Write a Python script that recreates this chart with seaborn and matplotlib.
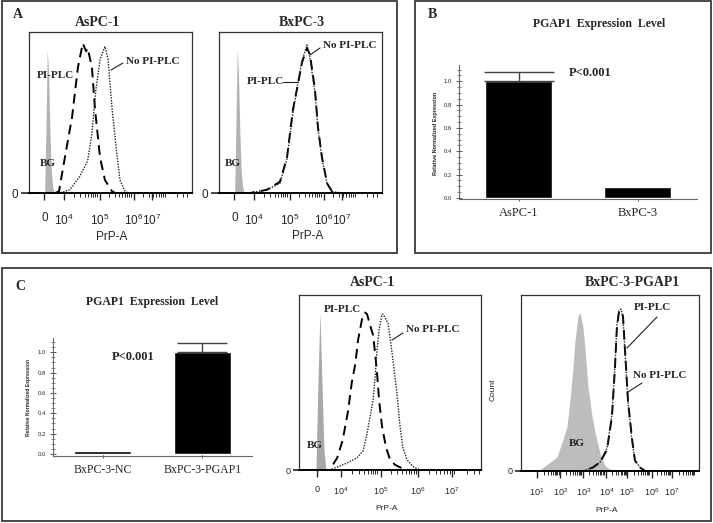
import numpy as np
import seaborn as sns
import matplotlib.pyplot as plt
from matplotlib.patches import Rectangle
from matplotlib.lines import Line2D

sns.set_style('white')
plt.rcParams['font.family'] = ['Liberation Sans', 'DejaVu Sans']
plt.rcParams['mathtext.fontset'] = 'custom'
plt.rcParams['mathtext.rm'] = 'Liberation Sans'
plt.rcParams['mathtext.it'] = 'Liberation Sans:italic'
plt.rcParams['mathtext.bf'] = 'Liberation Sans:bold'
SERIF = 'Liberation Serif'

W, H = 713, 523

# ---------------- data ----------------
# bar charts: relative normalized PGAP1 expression
b_groups = ['AsPC-1', 'BxPC-3']
b_expr = [1.0, 0.095]
b_err = [0.077, 0.0]

c_groups = ['BxPC-3-NC', 'BxPC-3-PGAP1']
c_expr = [0.028, 1.0]
c_err = [0.0, 0.088]

# flow histograms: x in relative channel units (0-100), y in % of axis height
# A, AsPC-1
a1_bg_x = [9.6, 10.4, 11.2, 12.0, 12.8, 13.6, 14.5, 15.5]
a1_bg_y = [0, 40, 89, 75, 40, 15, 4, 0]
a1_pi_x = [16, 18.4, 22, 26.4, 30, 33, 35, 36, 38.6, 40.5, 43.6, 46.6, 51, 53, 60]
a1_pi_y = [0, 1, 22, 47, 78, 93, 88, 90, 78, 52, 22, 8, 1, 0, 0]
a1_no_x = [16, 19, 25, 31, 36, 38.6, 41, 43.6, 46.6, 48.5, 51, 53.4, 55.8, 59, 60.7, 70]
a1_no_y = [0, 0, 2, 10, 20, 37, 64, 83, 91, 83, 52, 29, 8, 1, 0, 0]

# A, BxPC-3
a2_bg_x = [9.6, 10.4, 11.2, 12.0, 12.8, 13.6, 14.5, 15.5]
a2_bg_y = [0, 45, 90, 72, 38, 14, 4, 0]
a2_pi_x = [16, 19, 29.4, 37.4, 41.7, 45.4, 48.5, 50.9, 54, 55.8, 58.9, 60.7, 63.2, 66.3, 69.3, 74, 80]
a2_pi_y = [0, 0, 2, 7, 22, 52, 68, 81, 90, 86, 64, 41, 22, 6, 1, 0, 0]
a2_no_x = [16, 19, 29.4, 37.4, 41.7, 45.4, 48.5, 50.9, 54, 55.8, 58.9, 60.7, 63.2, 66.3, 69.3, 74, 80]
a2_no_y = [0, 0, 2, 6, 21, 50, 69, 82, 92, 84, 62, 40, 21, 6, 1, 0, 0]

# C, AsPC-1
c2_bg_x = [9.3, 10.4, 11.5, 12.6, 13.7, 14.8]
c2_bg_y = [0, 50, 90, 50, 12, 0]
c2_pi_x = [12, 17, 18, 21, 24, 27, 29, 31, 32.4, 34.6, 36.3, 37.4, 39, 40.7, 41.8, 42.9, 44, 45.6,
           47.8, 50, 52.7, 56.6, 60, 70]
c2_pi_y = [0, 0, 2, 7, 17, 34, 50, 61, 74, 86, 90, 89, 83, 77, 67, 55, 40, 25,
           13, 6, 3, 1, 0, 0]
c2_no_x = [12, 17, 26.4, 31.9, 35.2, 37.4, 39, 40.7, 41.8, 42.9, 44, 45.6, 46.2, 47.8, 48.9, 50,
           51.6, 53.8, 55.5, 57, 59.3, 62.6, 66.5, 75]
c2_no_y = [0, 0, 4, 7, 11, 21, 30, 40, 53, 69, 80, 89, 89, 86, 84, 76,
           63, 44, 25, 13, 6, 2, 0, 0]

# C, BxPC-3-PGAP1
c3_bg_x = [5, 9.6, 16.3, 20.2, 23.6, 25.8, 27.5, 29.2, 30.3, 32, 33.1, 34.8, 36, 37.6, 39.9,
           41.6, 44.4, 47.2, 50, 52.8]
c3_bg_y = [0, 0, 5, 8, 18, 25, 40, 59, 74, 88, 90, 82, 69, 48, 31,
           22, 10, 3, 1, 0]
c3_pi_x = [30, 34.8, 40.4, 44.4, 48.3, 51.1, 52.8, 53.9, 55, 56.2, 57.3, 58.4, 60.1, 62.4, 64,
           66.9, 69.7, 80]
c3_pi_y = [0, 0, 2, 5, 12, 31, 59, 82, 90, 91, 88, 69, 40, 18, 6, 2, 0, 0]
c3_no_x = [30, 34.8, 40.4, 44.4, 48.3, 51.1, 52.8, 53.9, 55, 56.2, 57.3, 58.4, 60.1, 62.4, 64,
           66.9, 69.7, 80]
c3_no_y = [0, 0, 2, 5, 13, 32, 60, 83, 91, 92, 87, 68, 39, 17, 6, 2, 0, 0]

ab_tick_pos = [9.5, 21.5, 43.5, 64.5, 75.5]
ab_tick_lab = ['0', r'$10^4$', r'$10^5$', r'$10^6$', r'$10^7$']
c2_tick_pos = [9.9, 23, 45, 65.4, 84]
c3_tick_pos = [9, 22, 35, 48, 59.5, 73.6, 84.8]
c3_tick_lab = [r'$10^%d$' % k for k in range(1, 8)]

# ---------------- layout helpers ----------------
fig = plt.figure(figsize=(W / 100, H / 100), dpi=100)


def px_axes(l, t, r, b):
    return fig.add_axes([l / W, 1 - b / H, (r - l) / W, (b - t) / H])


def ftext(x, y, s, **kw):
    kw.setdefault('ha', 'center')
    kw.setdefault('va', 'center')
    fig.text(x / W, 1 - y / H, s, **kw)


def fline(x1, y1, x2, y2, lw=0.8):
    fig.add_artist(Line2D([x1 / W, x2 / W], [1 - y1 / H, 1 - y2 / H],
                          transform=fig.transFigure, color='#222222', lw=lw))


def frame(l, t, r, b):
    fig.add_artist(Rectangle((l / W, 1 - b / H), (r - l) / W, (b - t) / H,
                             transform=fig.transFigure, fill=False,
                             edgecolor='#3a3a3a', lw=1.3))


def minor_ticks(start, width, n):
    out = []
    for d in range(n):
        for k in range(2, 10):
            p = start + width * (d + np.log10(k))
            if p < 99:
                out.append(p)
    return out


def hist_panel(ax, bg, pi, no, ticks, labels, fs, minor, bgcol, ylab_len, pad):
    ax.fill_between(bg[0], bg[1], color=bgcol, lw=0)
    sns.lineplot(x=pi[0], y=pi[1], ax=ax, color='black', lw=1.4,
                 linestyle=(0, (5, 3)))
    sns.lineplot(x=no[0], y=no[1], ax=ax, color='#222222', lw=1.0,
                 linestyle=(0, (1, 1)))
    ax.set_xlim(0, 100)
    ax.set_ylim(0, 100)
    for s in ax.spines.values():
        s.set_visible(True)
        s.set_linewidth(0.9)
        s.set_color('#333333')
    ax.spines['bottom'].set_linewidth(1.4)
    ax.spines['bottom'].set_color('black')
    ax.set_xticks(ticks)
    ax.set_xticklabels(labels, fontsize=fs)
    ax.set_xticks(minor, minor=True)
    ax.set_yticks([0])
    ax.set_yticklabels(['0'], fontsize=fs)
    ax.tick_params(axis='x', which='major', direction='out', length=5,
                   width=1.0, pad=pad, bottom=True)
    ax.tick_params(axis='x', which='minor', direction='out', length=3,
                   width=0.7, bottom=True)
    ax.tick_params(axis='y', direction='out', length=ylab_len, width=1.2,
                   pad=2, left=True)
    ax.set_xlabel('')
    ax.set_ylabel('')


def bar_panel(ax, groups, vals, errs, width, cap, lab_fs):
    sns.barplot(x=groups, y=vals, ax=ax, color='black', width=width,
                errorbar=None, saturation=1)
    for i, (v, e) in enumerate(zip(vals, errs)):
        if e > 0:
            ax.errorbar(i, v, yerr=[[0], [e]], fmt='none', ecolor='#444444',
                        elinewidth=1.0, capsize=cap, capthick=1.0)
    ax.set_xlim(-0.5, 1.5)
    sns.despine(ax=ax)
    for s in ['left', 'bottom']:
        ax.spines[s].set_linewidth(0.8)
        ax.spines[s].set_color('#666666')
    ax.set_yticks([0, 0.2, 0.4, 0.6, 0.8, 1.0])
    ax.set_yticklabels(['0.0', '0.2', '0.4', '0.6', '0.8', '1.0'], fontsize=4.3)
    ax.set_yticks(np.arange(0.05, 1.15, 0.05), minor=True)
    ax.tick_params(axis='y', which='major', direction='inout', length=4,
                   width=0.7, color='#555555', pad=3, left=True)
    ax.tick_params(axis='y', which='minor', direction='inout', length=2.5,
                   width=0.5, color='#555555', left=True)
    ax.tick_params(axis='x', direction='inout', length=3, width=0.7,
                   color='#555555', pad=4, bottom=True)
    for t in ax.get_xticklabels():
        t.set_fontfamily(SERIF)
        t.set_fontsize(lab_fs)
    ax.set_xlabel('')
    ax.set_ylabel('')


# ---------------- panel frames ----------------
frame(2, 1, 397, 253)
frame(415, 1, 711, 253)
frame(2, 268, 711, 521)

bold = dict(family=SERIF, fontweight='bold')

# ---------------- panel A ----------------
ax_a1 = px_axes(29, 32, 192, 193)
hist_panel(ax_a1, (a1_bg_x, a1_bg_y), (a1_pi_x, a1_pi_y), (a1_no_x, a1_no_y),
           ab_tick_pos, ab_tick_lab, 8.5, minor_ticks(21.5, 21, 4), '#b3b3b3', 6, 9)
ax_a2 = px_axes(219, 32, 382, 193)
hist_panel(ax_a2, (a2_bg_x, a2_bg_y), (a2_pi_x, a2_pi_y), (a2_no_x, a2_no_y),
           ab_tick_pos, ab_tick_lab, 8.5, minor_ticks(21.5, 21, 4), '#b3b3b3', 6, 9)

ftext(18, 15, 'A', fontsize=10, **bold)
ftext(97, 22, 'AsPC-1', fontsize=10, **bold)
ftext(302, 22, 'BxPC-3', fontsize=10, **bold)
ftext(112, 237, 'PrP-A', fontsize=8.5)
ftext(308, 236, 'PrP-A', fontsize=8.5)

ftext(55, 76, 'PI-PLC', fontsize=8, **bold)
ftext(153, 61, 'No PI-PLC', fontsize=8, **bold)
fline(111, 70, 123, 63)
ftext(48, 163, 'BG', fontsize=8, **bold)

ftext(350, 46, 'No PI-PLC', fontsize=8, **bold)
fline(310, 55, 320, 48)
ftext(265, 82, 'PI-PLC', fontsize=8, **bold)
fline(283, 82, 298, 82)
ftext(233, 163, 'BG', fontsize=8, **bold)

# ---------------- panel B ----------------
ax_b = px_axes(459, 65, 697, 199)
bar_panel(ax_b, b_groups, b_expr, b_err, 0.56, 25, 9)
ax_b.set_ylim(-0.01, 1.14)
ftext(432, 15, 'B', fontsize=10, **bold)
ftext(599, 24, 'PGAP1  Expression  Level', fontsize=8.5, **bold)
ftext(590, 73, 'P<0.001', fontsize=9, **bold)
ftext(436, 133, 'Relative Normalized Expression', fontsize=4, fontweight='bold',
      rotation=90)

# ---------------- panel C ----------------
ax_c1 = px_axes(53, 338, 252, 456)
bar_panel(ax_c1, c_groups, c_expr, c_err, 0.57, 18, 8.5)
ax_c1.set_ylim(-0.02, 1.14)
ftext(20, 287, 'C', fontsize=10, **bold)
ftext(152, 302, 'PGAP1  Expression  Level', fontsize=8.5, **bold)
ftext(133, 357, 'P<0.001', fontsize=9, **bold)
ftext(29, 397, 'Relative Normalized Expression', fontsize=3.6, fontweight='bold',
      rotation=90)

ax_c2 = px_axes(299, 295, 481, 470)
hist_panel(ax_c2, (c2_bg_x, c2_bg_y), (c2_pi_x, c2_pi_y), (c2_no_x, c2_no_y),
           c2_tick_pos, ab_tick_lab, 6.5, minor_ticks(23, 21, 4), '#a8a8a8', 4, 6)
ftext(372, 282, 'AsPC-1', fontsize=10, **bold)
ftext(387, 508, 'PrP-A', fontsize=6)
ftext(342, 310, 'PI-PLC', fontsize=8, **bold)
ftext(433, 330, 'No PI-PLC', fontsize=8, **bold)
fline(392, 340, 403, 333)
ftext(315, 445, 'BG', fontsize=8, **bold)

ax_c3 = px_axes(521, 295, 699, 471)
hist_panel(ax_c3, (c3_bg_x, c3_bg_y), (c3_pi_x, c3_pi_y), (c3_no_x, c3_no_y),
           c3_tick_pos, c3_tick_lab, 6.5, minor_ticks(9, 12.7, 7), '#bdbdbd', 4, 6)
ftext(632, 282, 'BxPC-3-PGAP1', fontsize=10, **bold)
ftext(607, 510, 'PrP-A', fontsize=6)
ftext(493, 390, 'Count', fontsize=6, rotation=90)
ftext(652, 307, 'PI-PLC', fontsize=8, **bold)
fline(627, 348, 657, 317)
ftext(660, 375, 'No PI-PLC', fontsize=8, **bold)
fline(628, 392, 642, 383)
ftext(577, 443, 'BG', fontsize=8, **bold)

fig.savefig('out.png', dpi=100, facecolor='white')
